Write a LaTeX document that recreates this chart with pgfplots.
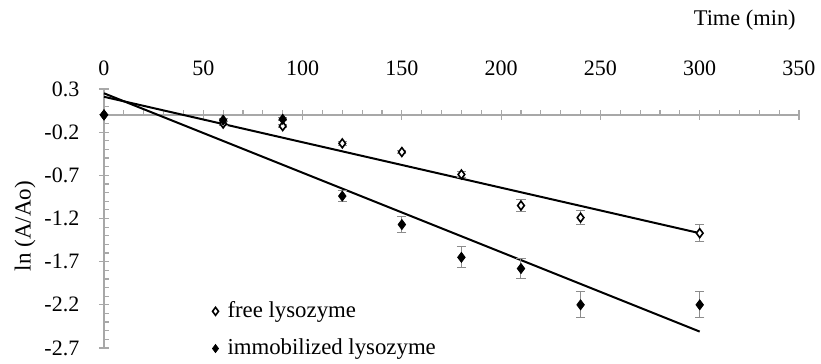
\documentclass[border=0pt]{standalone}
\usepackage{fontspec}
\setmainfont{Liberation Serif}
\usepackage{pgfplots}
\pgfplotsset{compat=1.18}
\usepackage{pgfplotstable}
\definecolor{axgray}{HTML}{A8A8A8}
\definecolor{errgray}{HTML}{8C8C8C}
\pgfplotstableread{
t y e
0 0 0
60 -0.10 0.02
90 -0.13 0.02
120 -0.33 0.02
150 -0.43 0.02
180 -0.69 0.04
210 -1.05 0.07
240 -1.19 0.08
300 -1.37 0.10
}\freedata
\pgfplotstableread{
t y e
0 0 0
60 -0.06 0.02
90 -0.05 0.02
120 -0.94 0.06
150 -1.27 0.09
180 -1.65 0.12
210 -1.78 0.12
240 -2.20 0.15
300 -2.20 0.15
}\immdata
\begin{document}
\fontsize{11}{13}\selectfont
\begin{tikzpicture}
\useasboundingbox (0,0) rectangle (410.5pt,182pt);
\begin{axis}[
  at={(52pt,8pt)}, anchor=south west,
  scale only axis, width=347.5pt, height=129.5pt,
  xmin=0, xmax=350, ymin=-2.7, ymax=0.3,
  axis x line*=middle, axis y line*=left,
  hide obscured x ticks=false, hide obscured y ticks=false,
  axis line style={axgray, line width=0.6pt},
  every tick/.style={axgray, line width=0.6pt},
  tick align=center,
  major tick length=5pt, minor tick length=2.5pt,
  minor x tick style={yshift=1.25pt},
  minor y tick style={xshift=1.25pt},
  xtick={0,50,...,350},
  xticklabels={0,50,100,150,200,250,300,350},
  minor x tick num=4,
  ytick={-2.7,-2.2,-1.7,-1.2,-0.7,-0.2,0.3},
  yticklabels={-2.7,-2.2,-1.7,-1.2,-0.7,-0.2,0.3},
  minor y tick num=4,
  xticklabel style={anchor=center, yshift=26pt, font=\fontsize{11}{13}\selectfont},
  yticklabel style={xshift=-6pt, font=\fontsize{11}{13}\selectfont},
  xlabel={Time (min)}, ylabel={ln (A/Ao)},
  xlabel style={at={(axis description cs:0.922,1.266)}, anchor=center, font=\fontsize{11.2}{13}\selectfont},
  ylabel style={at={(axis description cs:-0.1137,0.471)}, anchor=center, font=\fontsize{11.5}{13}\selectfont},
  clip=false,
  legend style={draw=none, fill=none, at={(axis description cs:0.155,0.07)}, anchor=west,
    font=\fontsize{11.4}{13}\selectfont, row sep=5pt, inner sep=0pt},
  legend cell align=left,
  legend image code/.code={\path[draw=none, fill=none] (-1.7pt,0pt) rectangle (4pt,0.1pt); \draw[only marks, mark size=2pt] plot coordinates {(0pt,0pt)};},
]
\addplot[black, line width=1pt, forget plot] coordinates {(0,0.21) (300,-1.37)};
\addplot[black, line width=1pt, forget plot] coordinates {(0,0.25) (300,-2.51)};
\addplot[only marks, mark=diamond*, mark size=2.2pt, mark options={fill=white, draw=black, line width=0.8pt},
  error bars/.cd, y dir=both, y explicit,
  error bar style={errgray, line width=0.5pt},
  error mark options={rotate=90, errgray, mark size=2.3pt, line width=0.5pt}]
  table[x=t, y=y, y error=e] {\freedata};
\addlegendentry{free lysozyme}
\addplot[only marks, mark=diamond*, mark size=2.5pt, mark options={fill=black, draw=black},
  error bars/.cd, y dir=both, y explicit,
  error bar style={errgray, line width=0.5pt},
  error mark options={rotate=90, errgray, mark size=2.3pt, line width=0.5pt}]
  table[x=t, y=y, y error=e] {\immdata};
\addlegendentry{immobilized lysozyme}
\end{axis}
\end{tikzpicture}
\end{document}
